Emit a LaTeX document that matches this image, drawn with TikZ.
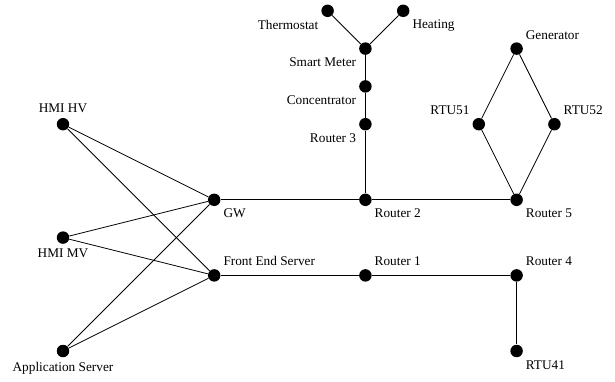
\documentclass[tikz,border=0pt]{standalone}
\usepackage{fontspec}
\setmainfont{Liberation Serif}
\begin{document}
\begin{tikzpicture}[
	dev/.style={circle, fill=black, inner sep=0pt, minimum size=0.33cm},
	link/.style={line width=0.6pt}]
	\useasboundingbox (-1.667,-0.794) rectangle (14.603,9.286);

	% Operator side
	\node[dev, label=above:HMI HV] (hmihv) at (0,6) {};
	\node[dev, label=below:HMI MV] (hmimv) at (0,3) {};
	\node[dev, label=below:Application Server] (appsrv) at (0,0) {};

	% Gateways
	\node[dev, label=below right:GW] (gw) at (4,4) {};
	\node[dev, label=above right:Front End Server] (fes) at (4,2) {};

	% Routers
	\node[dev, label=above right:Router 1] (r1) at (8,2) {};
	\node[dev, label=below right:Router 2] (r2) at (8,4) {};
	\node[dev, label=below left:Router 3] (r3) at (8,6) {};
	\node[dev, label=above right:Router 4] (r4) at (12,2) {};
	\node[dev, label=below right:Router 5] (r5) at (12,4) {};

	% Field devices
	\node[dev, label=below right:RTU41] (rtu41) at (12,0) {};
	\node[dev, label=above left:RTU51] (rtu51) at (11,6) {};
	\node[dev, label=above right:RTU52] (rtu52) at (13,6) {};
	\node[dev, label=above right:Generator] (gen) at (12,8) {};

	% Home side
	\node[dev, label=below left:Concentrator] (conc) at (8,7) {};
	\node[dev, label=below left:Smart Meter] (meter) at (8,8) {};
	\node[dev, label=below left:Thermostat] (thermo) at (7,9) {};
	\node[dev, label=below right:Heating] (heat) at (9,9) {};

	% Links
	\draw[link] (hmihv) -- (gw);
	\draw[link] (hmihv) -- (fes);
	\draw[link] (hmimv) -- (gw);
	\draw[link] (hmimv) -- (fes);
	\draw[link] (appsrv) -- (gw);
	\draw[link] (appsrv) -- (fes);
	\draw[link] (gw) -- (r2) -- (r5);
	\draw[link] (fes) -- (r1) -- (r4) -- (rtu41);
	\draw[link] (r2) -- (r3) -- (conc) -- (meter);
	\draw[link] (meter) -- (thermo);
	\draw[link] (meter) -- (heat);
	\draw[link] (r5) -- (rtu51) -- (gen);
	\draw[link] (r5) -- (rtu52) -- (gen);
\end{tikzpicture}
\end{document}
